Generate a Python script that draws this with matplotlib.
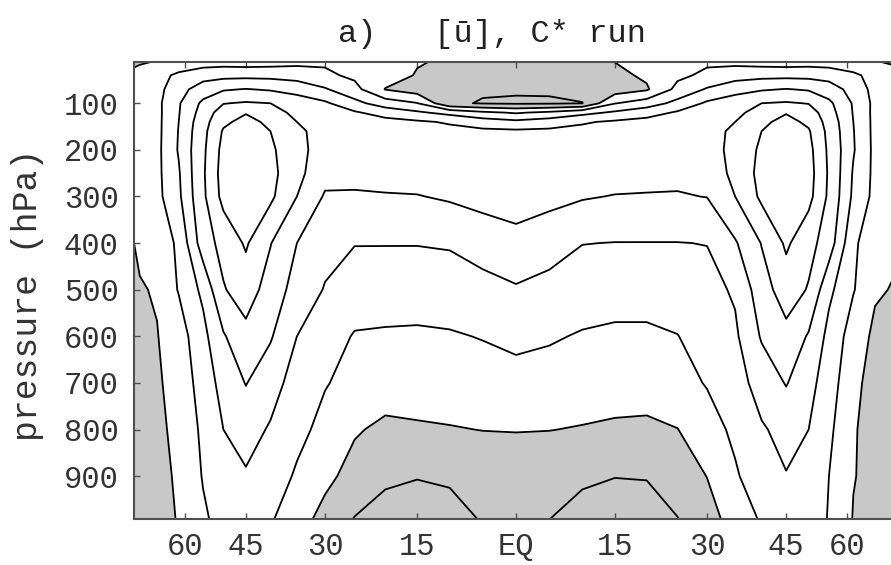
import matplotlib

matplotlib.use("Agg")
import matplotlib.pyplot as plt  # noqa: E402
import numpy as np  # noqa: E402

# zonal-mean zonal wind [u] (m/s)
LATS = [-90, -80, -70, -62, -55, -50, -45, -40, -35, -30, -25, -20, -15, -10, -5,
        0, 5, 10, 15, 20, 25, 30, 35, 40, 45, 50, 55, 62, 70, 80, 90]
LEVELS_HPA = [10, 40, 70, 100, 120, 140, 160, 200, 250, 300, 400, 500, 600, 700,
              800, 900, 1000]
U_WIND = [
    # 10 hPa
    [-0.8, -0.5, 0.1, 1.5, 2.5, 2.8, 2.5, 2.8, 3.5, 4.2, 4.8, 2.5, 0.3, -0.5, -1.0,
     -1.0, -1.0, -0.6, 0.1, 2.5, 4.8, 4.2, 3.5, 2.8, 2.5, 2.8, 2.5, 1.5, 0.1, -0.5, -0.8],
    # 40
    [1.0, 1.5, 3.0, 6.0, 8.0, 8.5, 8.6, 8.5, 8.0, 6.0, 4.0, 2.0, -0.3, -1.5, -2.0,
     -2.0, -2.0, -1.5, -1.2, 0.8, 4.0, 6.0, 8.0, 8.5, 8.6, 8.5, 8.0, 6.0, 3.0, 1.5, 1.0],
    # 70
    [2.0, 2.5, 3.2, 8.0, 12.5, 14.5, 15.2, 14.5, 13.0, 10.5, 6.6, -0.2, -2.5, -3.8, -4.5,
     -4.5, -4.5, -3.9, -2.6, -0.6, 6.4, 10.5, 13.0, 14.5, 15.2, 14.5, 12.5, 8.0, 3.2, 2.5, 2.0],
    # 100
    [2.3, 2.8, 3.5, 9.5, 16.0, 19.8, 20.5, 20.0, 18.0, 15.8, 11.5, 7.5, 5.2, -4.3, -5.3,
     -5.6, -5.5, -5.1, 4.8, 7.5, 11.5, 15.8, 18.0, 20.0, 20.5, 19.8, 16.0, 9.5, 3.5, 2.8, 2.3],
    # 120
    [2.4, 2.9, 3.4, 9.7, 17.0, 22.5, 24.7, 22.5, 18.5, 17.0, 15.6, 13.0, 10.8, 8.5, 6.0,
     4.5, 6.0, 8.5, 10.8, 13.0, 15.6, 17.0, 18.5, 22.5, 24.7, 22.5, 17.0, 9.7, 3.4, 2.9, 2.4],
    # 140
    [2.3, 2.9, 3.4, 10.0, 18.0, 24.0, 26.5, 24.0, 20.0, 18.2, 17.4, 16.6, 15.7, 14.5, 12.5,
     11.2, 12.5, 14.5, 15.7, 16.6, 17.4, 18.2, 20.0, 24.0, 26.5, 24.0, 18.0, 10.0, 3.4, 2.9, 2.3],
    # 160
    [2.2, 2.9, 3.4, 10.2, 18.5, 25.5, 28.0, 25.0, 20.8, 18.5, 17.8, 17.3, 16.8, 16.3, 16.0,
     15.8, 16.0, 16.3, 16.8, 17.3, 17.8, 18.5, 20.8, 25.0, 28.0, 25.5, 18.5, 10.2, 3.4, 2.9, 2.2],
    # 200
    [2.1, 2.9, 3.5, 10.4, 19.0, 26.5, 29.2, 26.0, 21.2, 18.3, 17.3, 17.1, 17.2, 17.3, 17.3,
     17.3, 17.3, 17.3, 17.2, 17.1, 17.3, 18.3, 21.2, 26.0, 29.2, 26.5, 19.0, 10.4, 3.5, 2.9, 2.1],
    # 250
    [2.0, 3.0, 3.6, 9.5, 19.3, 27.0, 29.5, 26.5, 21.5, 16.5, 16.0, 16.5, 17.0, 17.5, 18.0,
     18.0, 18.0, 17.5, 17.0, 16.5, 16.0, 16.5, 21.5, 26.5, 29.5, 27.0, 19.3, 9.5, 3.6, 3.0, 2.0],
    # 300
    [1.5, 2.8, 3.4, 9.0, 19.0, 26.5, 29.0, 26.0, 20.0, 14.5, 14.6, 14.7, 14.8, 15.6, 16.5,
     17.0, 16.4, 15.4, 14.8, 14.7, 14.7, 15.1, 20.0, 26.0, 29.0, 26.5, 19.0, 9.0, 3.4, 2.8, 1.5],
    # 400
    [-0.1, 1.2, 3.0, 5.5, 17.6, 21.6, 25.6, 20.2, 15.0, 11.5, 10.2, 10.2, 10.2, 10.5, 12.3,
     13.6, 12.0, 10.1, 9.9, 9.9, 9.9, 10.1, 14.5, 20.2, 25.8, 21.6, 17.6, 5.5, 3.0, 1.2, 0.4],
    # 500
    [-0.6, -0.5, 0.4, 5.3, 11.1, 19.6, 22.5, 17.9, 13.1, 9.7, 7.2, 7.0, 6.9, 7.3, 8.2,
     9.5, 8.5, 7.4, 6.6, 6.6, 7.0, 8.5, 10.6, 17.9, 22.5, 19.6, 11.1, 5.3, 0.6, -0.3, -0.5],
    # 600
    [-0.8, -0.6, -0.2, 2.5, 8.5, 14.5, 18.5, 15.5, 10.0, 7.0, 4.7, 4.5, 4.4, 4.6, 5.2,
     6.2, 5.5, 4.6, 4.3, 4.3, 4.9, 6.8, 9.2, 15.5, 18.5, 14.5, 8.5, 2.5, -1.1, -0.6, -0.8],
    # 700
    [-1.5, -1.0, -0.4, 1.0, 7.5, 11.5, 15.2, 12.0, 8.0, 5.3, 3.5, 2.3, 2.4, 2.8, 3.0,
     3.2, 3.0, 2.7, 2.4, 2.3, 3.4, 5.3, 8.0, 12.0, 15.3, 11.5, 7.5, 0.7, -1.2, -1.2, -1.5],
    # 800
    [-2.5, -1.8, -0.8, 0.8, 6.0, 10.0, 12.0, 9.5, 6.5, 3.5, 0.5, -1.0, -0.6, -0.3, 0.1,
     0.2, 0.1, -0.3, -0.8, -1.0, -0.1, 3.0, 6.0, 9.5, 11.5, 10.0, 6.0, 0.3, -1.5, -1.8, -2.5],
    # 900
    [-3.0, -2.0, -1.0, 0.4, 5.3, 8.0, 9.5, 8.0, 4.3, 1.3, -1.8, -4.2, -4.8, -4.5, -3.6,
     -3.0, -3.6, -4.4, -4.9, -4.8, -3.0, 0.1, 4.4, 8.0, 9.8, 8.0, 5.0, 0.2, -1.5, -2.0, -3.0],
    # 1000
    [-4.0, -3.0, -1.5, 0.2, 4.2, 6.5, 7.5, 5.3, 2.0, -2.0, -5.5, -7.0, -7.5, -6.5, -4.9,
     -4.0, -5.1, -6.5, -7.5, -7.0, -5.3, -2.5, 2.2, 5.3, 7.5, 6.5, 4.8, -0.3, -1.8, -3.0, -4.0],
]
CONTOUR_LEVELS = [-5, 0, 5, 10, 15, 20, 25]
LAT_TICKS = [-60, -45, -30, -15, 0, 15, 30, 45, 60]
LAT_TICK_LABELS = ["60", "45", "30", "15", "EQ", "15", "30", "45", "60"]
P_TICKS = [100, 200, 300, 400, 500, 600, 700, 800, 900]

FONT = ["Liberation Mono", "DejaVu Sans Mono"]
GRAY = "#c8c8c8"
FRAME = "#505050"


def _sinlat(lat):
    return np.sin(np.deg2rad(lat))


def _arcsinlat(s):
    return np.rad2deg(np.arcsin(np.clip(s, -1.0, 1.0)))


def main() -> None:
    plt.rcParams["font.family"] = FONT
    fig = plt.figure(figsize=(8.91, 5.65), dpi=100)
    ax = fig.add_axes([0.1504, 0.0814, 0.8575, 0.8089])
    # x axis is linear in sin(latitude), like the original
    ax.set_xscale("function", functions=(_sinlat, _arcsinlat))

    u = np.array(U_WIND)
    ax.contourf(LATS, LEVELS_HPA, u, levels=[-100, 0], colors=[GRAY])
    ax.contour(LATS, LEVELS_HPA, u, levels=CONTOUR_LEVELS, colors="k",
               linewidths=1.3, linestyles="solid")

    ax.set_xlim(-90, 90)
    ax.set_ylim(992, 11.4)
    ax.set_xticks(LAT_TICKS)
    ax.set_xticklabels(LAT_TICK_LABELS)
    ax.set_yticks(P_TICKS)
    ax.minorticks_off()
    ax.tick_params(direction="in", length=4, width=1, color=FRAME,
                   top=True, right=True, labelsize=22, labelcolor="#333333")
    ax.tick_params(axis="y", pad=11)
    ax.tick_params(axis="x", pad=9)
    for sp in ax.spines.values():
        sp.set_color(FRAME)
        sp.set_linewidth(1.5)

    ax.set_ylabel("pressure (hPa)", fontsize=25, color="#333333")
    ax.yaxis.set_label_coords(-0.118, 0.49)
    fig.text(0.5527, 0.940, "a)   [\u016b], C* run", ha="center", va="center",
             fontsize=23, color="#222222")

    fig.savefig("out.png", dpi=100)
    plt.close(fig)


if __name__ == "__main__":
    main()
